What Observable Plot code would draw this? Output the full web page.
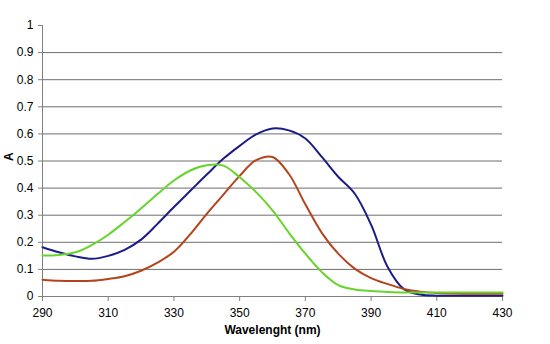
<!DOCTYPE html>
<html>
<head>
<meta charset="utf-8">
<script src="https://cdn.jsdelivr.net/npm/d3@7"></script>
<script src="https://cdn.jsdelivr.net/npm/@observablehq/plot@0.6"></script>
<style>
  html, body { margin: 0; padding: 0; background: #fff; }
  #chart { width: 550px; height: 344px; }
</style>
</head>
<body>
<div id="chart"></div>
<script>
// Wavelength grid (nm)
const wavelength = [290,295,300,305,310,315,320,325,330,335,340,345,350,355,360,365,370,375,380,385,390,395,400,405,410,415,420,425,430];
// Absorbance series
const blueA  = [0.182,0.163,0.148,0.139,0.150,0.172,0.210,0.268,0.330,0.390,0.450,0.508,0.556,0.598,0.620,0.613,0.583,0.515,0.442,0.380,0.265,0.110,0.027,0.007,0.003,0.003,0.003,0.003,0.003];
const redA   = [0.062,0.058,0.057,0.058,0.065,0.075,0.095,0.125,0.165,0.230,0.305,0.375,0.445,0.503,0.515,0.452,0.340,0.235,0.158,0.103,0.068,0.046,0.028,0.018,0.013,0.011,0.010,0.010,0.010];
const greenA = [0.151,0.153,0.163,0.190,0.228,0.275,0.325,0.378,0.428,0.465,0.484,0.483,0.440,0.385,0.318,0.235,0.158,0.090,0.042,0.026,0.020,0.017,0.015,0.015,0.015,0.015,0.015,0.015,0.015];
const seriesNames = ["S1","S2","S3"];
const seriesColors = ["#1c1c86","#b3441c","#66d42a"];
// Axis ticks
const xTicks = [290,310,330,350,370,390,410,430];
const yTicks = [0,0.1,0.2,0.3,0.4,0.5,0.6,0.7,0.8,0.9,1];
const gridTicks = [0.1,0.2,0.3,0.4,0.5,0.6,0.7,0.8,0.9];

const seriesValues = [blueA, redA, greenA];
const rows = [];
seriesValues.forEach((vals, si) => {
  vals.forEach((v, i) => rows.push({series: seriesNames[si], wl: wavelength[i], a: v}));
});

const chart = Plot.plot({
  width: 550,
  height: 344,
  marginLeft: 42,
  marginRight: 48,
  marginTop: 25,
  marginBottom: 48,
  style: {fontFamily: "Liberation Sans, Arial, sans-serif", fontSize: "12px", color: "#000", background: "#fff"},
  x: {domain: [290, 430]},
  y: {domain: [0, 1]},
  color: {domain: seriesNames, range: seriesColors},
  marks: [
    Plot.ruleY(gridTicks, {stroke: "#6e6e6e", strokeWidth: 1}),
    Plot.ruleX([290], {stroke: "#808080"}),
    Plot.ruleY([0], {stroke: "#808080"}),
    Plot.axisY(yTicks, {tickSize: 4, tickPadding: 5, tickFormat: d => String(d), label: null, stroke: "#808080", fontSize: 12}),
    Plot.axisX(xTicks, {tickSize: 5, tickPadding: 7, tickFormat: d => String(d), label: null, stroke: "#808080", fontSize: 12}),
    Plot.line(rows, {x: "wl", y: "a", z: "series", stroke: "series", strokeWidth: 2, curve: "catmull-rom"}),
    Plot.text(["Wavelenght (nm)"], {frameAnchor: "bottom", dy: 37, fontWeight: "bold", fontSize: 12}),
    Plot.text(["A"], {frameAnchor: "left", dx: -33, rotate: -90, fontWeight: "bold", fontSize: 12})
  ]
});
document.getElementById("chart").appendChild(chart);
</script>
</body>
</html>
